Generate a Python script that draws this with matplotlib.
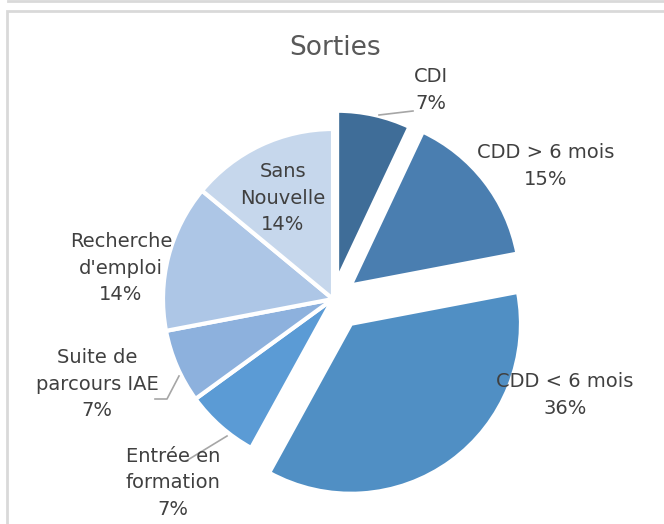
import matplotlib
matplotlib.use('Agg')
from matplotlib import pyplot as plt
from matplotlib import patches as patches
from matplotlib.lines import Line2D

# data
categories = ['CDI', 'CDD > 6 mois', 'CDD < 6 mois', 'Entrée en\nformation',
              'Suite de\nparcours IAE', "Recherche\nd'emploi", 'Sans\nNouvelle']
shares = [7, 15, 36, 7, 7, 14, 14]
colors = ['#3f6d98', '#4a7eb0', '#508fc4', '#5b9bd5', '#8db1dd', '#adc6e6', '#c6d7ec']
explode = [0.11, 0.13, 0.18, 0, 0, 0, 0]

# layout (pixels in the 664x524 canvas)
W, H = 664, 524
cx, cy, R = 333, 299, 170
label_pos = [(431, 90), (546, 166), (565, 395), (173, 483), (97, 384), (121, 268), (283, 198)]
leaders = [[(379, 115), (413, 111)],
           [(227, 436), (186, 461)],
           [(179, 376), (167, 399), (155, 399)]]

def to_data(px, py):
    return (px - cx) / R, (cy - py) / R

plt.rcParams['font.family'] = ['DejaVu Sans']

fig = plt.figure(figsize=(W / 100, H / 100), dpi=100)
ax = fig.add_axes([0, 0, 1, 1])
ax.axis('off')

ax.pie(shares, colors=colors, explode=explode, startangle=90, counterclock=False,
       radius=1, wedgeprops=dict(linewidth=3, edgecolor='white'))
ax.set_xlim(-cx / R, (W - cx) / R)
ax.set_ylim(-(H - cy) / R, cy / R)
ax.set_aspect('auto')

for lab, s, (px, py) in zip(categories, shares, label_pos):
    x, y = to_data(px, py)
    ax.text(x, y, f'{lab}\n{s}%', ha='center', va='center', fontsize=14,
            color='#404040', linespacing=1.5)

for pts in leaders:
    xs, ys = zip(*[to_data(px, py) for px, py in pts])
    ax.plot(xs, ys, color='#a6a6a6', linewidth=1.2)

x, y = to_data(335, 48)
ax.text(x, y, 'Sorties', ha='center', va='center', fontsize=19, color='#595959')

# chart frame
fig.add_artist(patches.Rectangle((7 / W, -0.1), 1.1, 1 - 11 / H + 0.1, transform=fig.transFigure,
                                 fill=False, edgecolor='#d9d9d9', linewidth=2))
fig.add_artist(Line2D([8 / W, 1], [1 - 1 / H, 1 - 1 / H], transform=fig.transFigure,
                      color='#d9d9d9', linewidth=2))

fig.savefig('out.png', dpi=100)
